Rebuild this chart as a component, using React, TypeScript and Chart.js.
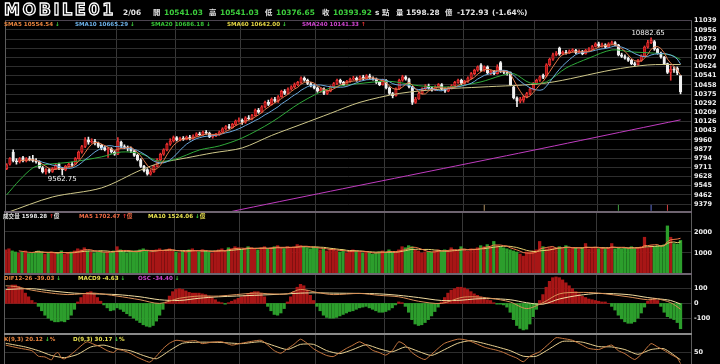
import React, { useEffect, useRef } from "react";
import { Chart, registerables } from "chart.js";
Chart.register(...registerables);

// ---------------- DATA ----------------
const openP = [
  9700, 9740, 9850, 9770, 9760, 9800, 9770, 9790, 9790, 9770,
  9760, 9710, 9670, 9690, 9675, 9700, 9740, 9700, 9690, 9720,
  9740, 9740, 9790, 9850, 9900, 9960, 9940, 9950, 9930, 9910,
  9890, 9870, 9880, 9850, 9830, 9940, 9900, 9890, 9885, 9860,
  9820, 9780, 9720, 9690, 9650, 9670, 9720, 9780, 9830, 9870,
  9920, 9950, 9980, 9960, 9975, 9965, 9985, 9970, 9995, 10015,
  10005, 10030, 10020, 9990, 10000, 10010, 10030, 10060, 10080, 10070,
  10100, 10130, 10140, 10120, 10160, 10150, 10180, 10230, 10210, 10260,
  10300, 10280, 10330, 10310, 10350, 10400, 10380, 10420, 10440, 10460,
  10480, 10520, 10500, 10470, 10450, 10430, 10400, 10420, 10380, 10400,
  10440, 10470, 10500, 10480, 10460, 10490, 10510, 10520, 10500, 10530,
  10510, 10540, 10520, 10510, 10480, 10460, 10500, 10430, 10380, 10360,
  10420, 10500, 10530, 10510, 10440, 10300, 10330, 10380, 10420, 10450,
  10430, 10410, 10440, 10460, 10420, 10400, 10430, 10450, 10480, 10500,
  10470, 10490, 10520, 10560, 10590, 10640, 10590, 10620, 10565, 10580,
  10560, 10660, 10580, 10570, 10570, 10440, 10340, 10310, 10320, 10350,
  10380, 10420, 10470, 10500, 10545, 10540, 10640, 10690, 10730, 10790,
  10740, 10755, 10745, 10765, 10770, 10750, 10760, 10740, 10770, 10780,
  10805, 10830, 10810, 10820, 10800, 10830, 10840, 10820, 10730, 10715,
  10700, 10680, 10650, 10640, 10680, 10720, 10800, 10840, 10850, 10780,
  10745, 10710, 10650, 10570, 10600, 10610, 10541.03,
];
const highP = [
  9745, 9800, 9870, 9790, 9800, 9810, 9800, 9810, 9820, 9790,
  9770, 9720, 9700, 9700, 9710, 9740, 9750, 9710, 9730, 9750,
  9760, 9800, 9860, 9910, 9980, 9985, 9970, 9965, 9940, 9920,
  9905, 9890, 9890, 9860, 9980, 9950, 9915, 9905, 9895, 9870,
  9830, 9790, 9730, 9700, 9690, 9730, 9790, 9840, 9880, 9930,
  9970, 9995, 9990, 9985, 9990, 9995, 10000, 10005, 10025, 10030,
  10040, 10045, 10030, 10010, 10020, 10040, 10070, 10090, 10100, 10110,
  10140, 10160, 10150, 10170, 10180, 10190, 10240, 10245, 10270, 10310,
  10320, 10340, 10345, 10360, 10410, 10415, 10430, 10450, 10475, 10490,
  10530, 10530, 10510, 10480, 10460, 10440, 10430, 10430, 10410, 10450,
  10480, 10510, 10510, 10490, 10500, 10520, 10535, 10530, 10540, 10545,
  10550, 10555, 10530, 10520, 10490, 10510, 10505, 10440, 10390, 10430,
  10510, 10545, 10540, 10520, 10445, 10345, 10390, 10430, 10460, 10465,
  10440, 10450, 10470, 10470, 10430, 10440, 10460, 10490, 10510, 10510,
  10500, 10530, 10570, 10600, 10630, 10650, 10630, 10630, 10590, 10590,
  10640, 10670, 10590, 10580, 10575, 10445, 10350, 10345, 10360, 10390,
  10430, 10480, 10510, 10540, 10555, 10650, 10700, 10745, 10760, 10800,
  10765, 10770, 10775, 10785, 10780, 10775, 10770, 10780, 10795, 10815,
  10840, 10845, 10835, 10830, 10840, 10855, 10850, 10825, 10745, 10730,
  10710, 10690, 10665, 10690, 10730, 10810, 10860, 10882.65, 10860, 10790,
  10755, 10715, 10655, 10630, 10620, 10620, 10541.03,
];
const lowP = [
  9690, 9730, 9760, 9740, 9750, 9760, 9760, 9770, 9760, 9750,
  9700, 9660, 9650, 9660, 9665, 9690, 9690, 9642, 9680, 9710,
  9720, 9735, 9785, 9840, 9890, 9920, 9930, 9915, 9890, 9870,
  9860, 9800, 9840, 9820, 9825, 9890, 9880, 9860, 9845, 9810,
  9770, 9710, 9670, 9640, 9640, 9665, 9715, 9770, 9820, 9860,
  9910, 9940, 9950, 9950, 9955, 9960, 9960, 9965, 9990, 10000,
  10000, 10010, 9980, 9975, 9990, 10000, 10025, 10050, 10060, 10065,
  10090, 10120, 10100, 10110, 10140, 10140, 10175, 10200, 10205, 10250,
  10270, 10275, 10300, 10300, 10345, 10370, 10375, 10410, 10430, 10450,
  10470, 10490, 10460, 10440, 10420, 10390, 10390, 10370, 10370, 10395,
  10430, 10460, 10470, 10450, 10455, 10480, 10500, 10490, 10495, 10500,
  10505, 10510, 10500, 10470, 10450, 10455, 10420, 10370, 10340, 10355,
  10415, 10490, 10500, 10430, 10280, 10290, 10325, 10375, 10410, 10420,
  10400, 10405, 10430, 10410, 10390, 10395, 10420, 10440, 10470, 10460,
  10460, 10480, 10510, 10550, 10580, 10580, 10580, 10555, 10550, 10550,
  10555, 10570, 10560, 10545, 10450, 10330, 10260, 10295, 10300, 10340,
  10370, 10410, 10460, 10490, 10515, 10530, 10630, 10680, 10720, 10725,
  10730, 10735, 10740, 10755, 10740, 10745, 10730, 10735, 10765, 10775,
  10800, 10800, 10800, 10790, 10795, 10825, 10810, 10720, 10705, 10690,
  10670, 10640, 10625, 10635, 10670, 10715, 10790, 10830, 10770, 10735,
  10700, 10640, 10560, 10500, 10570, 10550, 10376.65,
];
const closeP = [
  9735, 9790, 9770, 9760, 9790, 9770, 9790, 9780, 9770, 9760,
  9710, 9670, 9690, 9675, 9700, 9730, 9700, 9690, 9720, 9740,
  9730, 9790, 9850, 9900, 9960, 9940, 9950, 9930, 9900, 9890,
  9870, 9880, 9850, 9830, 9950, 9900, 9890, 9885, 9860, 9820,
  9780, 9720, 9680, 9650, 9670, 9720, 9780, 9830, 9870, 9920,
  9950, 9980, 9960, 9975, 9965, 9985, 9970, 9995, 10015, 10005,
  10030, 10020, 9990, 10000, 10010, 10030, 10060, 10080, 10070, 10100,
  10130, 10140, 10120, 10160, 10150, 10180, 10230, 10210, 10260, 10300,
  10280, 10330, 10310, 10350, 10400, 10380, 10420, 10440, 10460, 10480,
  10520, 10500, 10470, 10450, 10430, 10400, 10420, 10380, 10400, 10440,
  10470, 10500, 10480, 10460, 10490, 10510, 10520, 10500, 10530, 10510,
  10540, 10520, 10510, 10480, 10460, 10500, 10430, 10380, 10360, 10420,
  10500, 10530, 10510, 10440, 10300, 10330, 10380, 10420, 10450, 10430,
  10410, 10440, 10460, 10420, 10400, 10430, 10450, 10480, 10500, 10470,
  10490, 10520, 10560, 10590, 10620, 10590, 10620, 10565, 10580, 10560,
  10620, 10580, 10570, 10560, 10460, 10340, 10310, 10330, 10350, 10380,
  10420, 10470, 10500, 10530, 10525, 10640, 10690, 10730, 10745, 10735,
  10755, 10745, 10765, 10770, 10750, 10760, 10740, 10770, 10780, 10805,
  10830, 10810, 10820, 10800, 10830, 10840, 10820, 10730, 10715, 10700,
  10680, 10650, 10640, 10680, 10720, 10800, 10840, 10860, 10780, 10745,
  10710, 10650, 10570, 10600, 10590, 10566.85, 10393.92,
];
const volume = [
  1150, 1200, 1100, 1050, 1000, 1050, 1100, 980, 1000, 1050,
  1100, 1050, 950, 1000, 1050, 980, 1000, 1100, 950, 1000,
  1050, 1100, 1200, 1150, 1250, 1100, 1050, 1000, 1050, 1100,
  1000, 1050, 1000, 1100, 1300, 1150, 1050, 1000, 1050, 1100,
  1100, 1150, 1200, 1100, 1050, 1100, 1150, 1200, 1100, 1150,
  1200, 1100, 1050, 1000, 1100, 1050, 1150, 1200, 1100, 1050,
  1150, 1100, 1050, 1000, 1100, 1150, 1200, 1100, 1250, 1200,
  1300, 1250, 1150, 1200, 1300, 1250, 1200, 1150, 1250, 1300,
  1200, 1250, 1300, 1350, 1250, 1200, 1300, 1250, 1300, 1400,
  1350, 1300, 1250, 1200, 1300, 1250, 1150, 1200, 1100, 1150,
  1200, 1100, 1050, 1100, 1000, 1100, 1150, 1100, 1050, 1000,
  1050, 1000, 950, 1000, 1050, 1100, 1050, 1150, 1000, 1050,
  1150, 1300, 1250, 1350, 1300, 1150, 1100, 1000, 1050, 1050,
  1050, 1100, 1150, 1100, 1150, 1100, 1250, 1150, 1100, 1300,
  1150, 1100, 1200, 1150, 1250, 1350, 1300, 1400, 1300, 1550,
  1350, 1300, 1250, 1200, 1150, 1100, 1050, 950, 850, 1050,
  1050, 1100, 1150, 1550, 1300, 1200, 1250, 1250, 1200, 1300,
  1200, 1350, 1200, 1250, 1250, 1200, 1250, 1450, 1200, 1250,
  1250, 1200, 1250, 1200, 1250, 1450, 1200, 1250, 1200, 1250,
  1200, 1300, 1200, 1250, 1300, 1750, 1250, 1350, 1300, 1350,
  1350, 1400, 2290, 1750, 1450, 1424, 1598.28,
];
const oscHist = [
  18, 22, 25, 25, 23, 19, 14, 9, 4, 1,
  -4, -10, -16, -20, -23, -25, -25, -24, -25, -22, -16, -8,
  2, 8, 12, 15, 16, 13, 8, 3,
  -2, -6, -10, -9, -6, -8, -11, -14, -17, -20, -23, -26, -29, -31, -32, -30, -24, -16, -8,
  2, 10, 16, 19, 20, 19, 17, 15, 14, 14, 14, 13, 12, 10, 8, 5, 2,
  1, -1, 1,
  3, 5, 7, 9, 11, 13, 15, 16, 16, 14, 9,
  -4, -10, -15, -16, -13, -7,
  2, 9, 16, 22, 26, 24, 18, 11, 4,
  -4, -10, -16, -19, -20, -20, -19, -17, -15, -13, -11, -10, -8, -6,
  -5, -4, -6, -8, -10, -12, -12, -11, -9, -6, -2,
  2, 1,
  -4, -12, -22, -28, -30, -29, -26, -22, -17, -11, -5,
  2, 8, 14, 18, 20, 22, 22, 21, 19, 16, 13, 11, 9, 7, 5, 4,
  1, -1, -1, -2,
  -5, -12, -22, -30, -34, -36, -35, -28, -18, -8,
  4, 12, 22, 30, 35, 36, 35, 32, 28, 24, 20, 16, 13, 10, 8, 6, 5, 4, 3, 2, 2,
  0, -4, -9, -16, -21, -25, -27, -27, -25, -20, -13, -5,
  3, 6, 7, 4,
  -4, -12, -18, -20, -22, -26, -34.4,
];
const difPts = [[0,120],[3,115],[6,100],[8,90],[14,70],[19,60],[23,65],[27,70],[34,50],[41,25],[47,0],[53,35],[59,50],[65,50],[76,70],[81,65],[86,65],[90,95],[95,75],[100,60],[108,68],[114,55],[120,45],[126,15],[133,0],[139,40],[143,45],[148,35],[154,10],[159,-35],[164,5],[169,65],[175,75],[181,70],[190,45],[196,25],[199,30],[203,5],[206,-39.03]];
const macdPts = [[0,95],[8,100],[14,85],[21,70],[27,65],[34,60],[41,45],[47,25],[53,20],[59,35],[65,45],[76,55],[86,65],[90,70],[95,72],[100,70],[108,68],[114,65],[120,55],[126,40],[133,20],[139,22],[143,30],[148,33],[154,25],[159,5],[164,-5],[169,30],[175,55],[181,68],[190,60],[196,40],[199,32],[203,20],[206,-4.63]];
const kPts = [[0,70],[4,62],[8,55],[10,40],[12,38],[14,30],[15,45],[16,50],[17,35],[18,33],[20,45],[22,60],[24,75],[25,79],[27,72],[29,65],[31,55],[33,50],[34,58],[36,55],[38,48],[40,38],[42,30],[44,24],[46,40],[48,60],[50,75],[52,83],[55,80],[58,82],[60,74],[63,78],[66,79],[69,70],[72,75],[75,80],[78,83],[80,70],[82,55],[84,48],[86,60],[88,72],[90,86],[92,75],[94,60],[96,50],[98,42],[100,39],[102,50],[104,61],[106,70],[108,79],[110,70],[112,56],[114,50],[116,43],[118,55],[120,79],[122,70],[124,50],[126,38],[128,31],[130,45],[132,61],[134,75],[138,86],[140,85],[142,80],[146,65],[148,60],[150,56],[152,50],[154,42],[156,35],[158,25],[160,40],[163,52],[166,75],[168,90],[170,88],[173,83],[176,70],[178,61],[181,58],[183,65],[185,70],[187,55],[189,47],[192,31],[194,45],[197,74],[199,65],[201,56],[203,45],[205,35],[206,20.12]];
const dPts = [[0,75],[6,65],[10,55],[14,42],[18,36],[22,45],[26,65],[30,70],[34,60],[38,55],[42,42],[46,33],[50,55],[54,75],[60,78],[66,77],[72,74],[78,79],[82,68],[86,58],[90,72],[94,72],[98,55],[102,47],[106,58],[110,71],[114,60],[118,52],[122,65],[126,53],[130,42],[134,58],[138,75],[142,82],[148,70],[154,55],[158,40],[162,40],[166,60],[170,80],[176,78],[181,66],[185,65],[189,58],[193,45],[197,58],[201,60],[206,30.17]];
const sma20Pts = [[0,9462],[4,9597],[8,9706],[11,9733],[20,9760],[29,9806],[35,9850],[41,9835],[46,9770],[51,9780],[59,9869],[65,9905],[72,9977],[81,10120],[90,10300],[99,10430],[108,10470],[117,10490],[126,10450],[136,10440],[145,10485],[151,10540],[155,10560],[160,10475],[165,10485],[171,10610],[178,10700],[185,10774],[191,10756],[198,10745],[203,10728],[206,10686.18]];
const sma60Pts = [[0,9300],[14,9443],[29,9525],[41,9687],[47,9751],[55,9797],[63,9842],[72,9887],[81,10000],[90,10100],[99,10200],[108,10300],[120,10380],[133,10420],[145,10438],[165,10475],[185,10593],[196,10638],[206,10642]];
const sma240Pts = [[0,8880],[68,9307],[99,9495],[130,9680],[160,9860],[191,10050],[206,10141.33]];

const priceTicks = [11039, 10956, 10873, 10790, 10707, 10624, 10541, 10458, 10375, 10292, 10209, 10126, 10043, 9960, 9877, 9794, 9711, 9628, 9545, 9462, 9379];
const volTicks = [1000, 2000];
const macdTicks = [-100, 0, 100];
const kdTicks = [50];
const monthStartIdx = [34, 52, 72, 95, 116, 140, 162, 181];
const eventIdx = [146, 187, 197, 202];
const extremes = [
  { i: 197, text: "10882.65", side: "high" },
  { i: 17, text: "9562.75", side: "low" },
];

// ---------------- STYLE ----------------
const FONT = '"DejaVu Sans", "Noto Sans CJK TC", sans-serif';
const UP_FILL = "#a81212";
const UP_EDGE = "#ec3434";
const DOWN_COL = "#f0f0f0";
const VOL_UP = "#a81616";
const VOL_DN = "#2c9e2c";
const GRID = "#2e2e2e";
const VGRID = "#383838";
const eventColors = ["#b09060", "#40a040", "#6070d0", "#d04040"];

const N = closeP.length;
const IDX = Array.from({ length: N }, (_, i) => i);
const isUp = (i: number) => closeP[i] >= openP[i];

function movingAvg(src: number[], n: number) {
  const out: { x: number; y: number }[] = [];
  for (let i = n - 1; i < src.length; i++) {
    let s = 0;
    for (let k = i - n + 1; k <= i; k++) s += src[k];
    out.push({ x: i, y: s / n });
  }
  return out;
}
const pts = (arr: number[][]) => arr.map(([x, y]) => ({ x, y }));

const xScale = () => ({
  type: "linear",
  min: -0.5,
  max: 209.5,
  offset: false,
  afterBuildTicks: (s: any) => {
    s.ticks = monthStartIdx.map((m) => ({ value: m - 0.5 }));
  },
  ticks: { display: false },
  grid: { color: VGRID, drawTicks: false, offset: false, lineWidth: 1 },
  border: { display: false },
  afterFit: (s: any) => {
    s.height = 0;
  },
});

const yScale = (min: number, max: number, tickVals: number[]) => ({
  type: "linear",
  position: "right",
  min,
  max,
  afterBuildTicks: (s: any) => {
    s.ticks = tickVals.map((v) => ({ value: v }));
  },
  ticks: {
    color: "#f0f0f0",
    autoSkip: false,
    font: { family: FONT, size: 6.5, weight: "bold" },
    padding: 2,
    callback: (v: any) => String(v),
  },
  grid: { color: GRID, drawTicks: false },
  border: { display: false },
  afterFit: (s: any) => {
    s.width = 28;
  },
});

const framePlugin = {
  id: "frame",
  afterDraw(chart: any, _a: any, opts: any) {
    const { ctx, chartArea: a } = chart;
    ctx.save();
    ctx.strokeStyle = "#5c5c5c";
    ctx.lineWidth = 1;
    ctx.beginPath();
    ctx.moveTo(a.left + 0.5, a.top);
    ctx.lineTo(a.left + 0.5, a.bottom);
    ctx.moveTo(a.right - 0.5, a.top);
    ctx.lineTo(a.right - 0.5, a.bottom);
    ctx.stroke();
    if (opts && opts.topColor) {
      ctx.strokeStyle = opts.topColor;
      ctx.lineWidth = opts.topWidth;
      ctx.beginPath();
      ctx.moveTo(a.left, a.top + (opts.topWidth % 2 ? 0.5 : 0));
      ctx.lineTo(a.right, a.top + (opts.topWidth % 2 ? 0.5 : 0));
      ctx.stroke();
    }
    ctx.restore();
  },
};

const extremaPlugin = {
  id: "extrema",
  afterDatasetsDraw(chart: any) {
    const { ctx, scales } = chart;
    ctx.save();
    ctx.fillStyle = "#f2f2f2";
    ctx.font = `7px ${FONT}`;
    ctx.textAlign = "center";
    for (const m of extremes) {
      const px = scales.x.getPixelForValue(m.i);
      if (m.side === "high") {
        ctx.textBaseline = "bottom";
        ctx.fillText(m.text, px - 3, scales.y.getPixelForValue(highP[m.i]) - 1);
      } else {
        ctx.textBaseline = "top";
        ctx.fillText(m.text, px, scales.y.getPixelForValue(lowP[m.i]) + 1);
      }
    }
    ctx.restore();
  },
};

function baseOptions(padTop: number, padBottom: number, scales: any, frame: any) {
  return {
    responsive: false,
    maintainAspectRatio: false,
    animation: false,
    devicePixelRatio: 1,
    events: [],
    layout: { padding: { left: 4, right: 0, top: padTop, bottom: padBottom } },
    plugins: { legend: { display: false }, tooltip: { enabled: false }, frame },
    scales,
  };
}

const line = (data: any[], color: string, order: number, tension = 0) => ({
  type: "line",
  data,
  borderColor: color,
  borderWidth: 1,
  pointRadius: 0,
  tension,
  order,
});

function priceConfig(): any {
  return {
    type: "bar",
    data: {
      datasets: [
        {
          type: "bar",
          data: IDX.map((i) => ({ x: i, y: [lowP[i], highP[i]] })),
          backgroundColor: IDX.map((i) => (isUp(i) ? UP_EDGE : DOWN_COL)),
          barThickness: 1,
          grouped: false,
          order: 11,
        },
        {
          type: "bar",
          data: IDX.map((i) => ({ x: i, y: [openP[i], closeP[i]] })),
          backgroundColor: IDX.map((i) => (isUp(i) ? UP_FILL : DOWN_COL)),
          borderColor: IDX.map((i) => (isUp(i) ? UP_EDGE : DOWN_COL)),
          borderWidth: 0.8,
          borderSkipped: false,
          barThickness: 2.6,
          minBarLength: 1,
          grouped: false,
          order: 10,
        },
        line(pts(sma240Pts), "#c03cc0", 6, 0.3),
        line(pts(sma60Pts), "#cfc88a", 5, 0.3),
        line(pts(sma20Pts), "#2faa3a", 4, 0.3),
        line(movingAvg(closeP, 10), "#6aa8dc", 3),
        line(movingAvg(closeP, 5), "#e0784a", 2),
        {
          type: "scatter",
          data: eventIdx.map((i) => ({ x: i, y: 9345 })),
          pointStyle: "line",
          rotation: 90,
          radius: 3,
          borderWidth: 1,
          borderColor: eventColors,
          order: 1,
        },
      ],
    },
    options: baseOptions(8, 8, { x: xScale(), y: yScale(9307, 11045, priceTicks) }, { topColor: "#4c4450", topWidth: 1 }),
    plugins: [framePlugin, extremaPlugin],
  };
}

function volumeConfig(): any {
  return {
    type: "bar",
    data: {
      datasets: [
        {
          type: "bar",
          data: IDX.map((i) => ({ x: i, y: volume[i] })),
          backgroundColor: IDX.map((i) => (isUp(i) ? VOL_UP : VOL_DN)),
          barThickness: 2.6,
          grouped: false,
          order: 5,
        },
        line(movingAvg(volume, 10), "#e6d070", 2),
        line(movingAvg(volume, 5), "#f07848", 1),
      ],
    },
    options: baseOptions(8, 8, { x: xScale(), y: yScale(0, 2952, volTicks) }, { topColor: "#6e6470", topWidth: 2 }),
    plugins: [framePlugin],
  };
}

function macdConfig(): any {
  return {
    type: "bar",
    data: {
      datasets: [
        {
          type: "bar",
          yAxisID: "yOsc",
          data: IDX.map((i) => ({ x: i, y: oscHist[i] })),
          backgroundColor: IDX.map((i) => (oscHist[i] >= 0 ? VOL_UP : VOL_DN)),
          barThickness: 2.6,
          grouped: false,
          order: 5,
        },
        line(pts(macdPts), "#f0dca0", 2, 0.3),
        line(pts(difPts), "#d89058", 1, 0.3),
      ],
    },
    options: baseOptions(8, 8, {
      x: xScale(),
      y: yScale(-201, 200, macdTicks),
      yOsc: { type: "linear", display: false, min: -40.2, max: 40 },
    }, { topColor: "#6e6470", topWidth: 2 }),
    plugins: [framePlugin],
  };
}

function kdConfig(): any {
  return {
    type: "line",
    data: {
      datasets: [
        line(pts(dPts), "#e8d090", 2, 0.2),
        line(pts(kPts), "#c87840", 1, 0.2),
      ],
    },
    options: baseOptions(8, 8, { x: xScale(), y: yScale(0, 100, kdTicks) }, { topColor: "#8a8a8a", topWidth: 2 }),
    plugins: [framePlugin],
  };
}

// ---------------- TEXT ----------------
const GREEN_T = "#3ccc3c";
const RED_T = "#ee3333";
const WHITE_T = "#e4e4e4";
const headerItems: [string, number, string][] = [
  ["2/06", 123, WHITE_T],
  ["開", 153, WHITE_T],
  ["10541.03", 164, GREEN_T],
  ["高", 209, WHITE_T],
  ["10541.03", 220, GREEN_T],
  ["低", 265, WHITE_T],
  ["10376.65", 276, GREEN_T],
  ["收", 322, WHITE_T],
  ["10393.92", 333, GREEN_T],
  ["s", 375, WHITE_T],
  ["點", 382, WHITE_T],
  ["量", 396, WHITE_T],
  ["1598.28", 406, WHITE_T],
  ["億", 445, WHITE_T],
  ["-172.93", 457, WHITE_T],
  ["(-1.64%)", 492, WHITE_T],
];
type Leg = { x: number; parts: [string, string][] };
const priceLegend: Leg[] = [
  { x: 4, parts: [["SMA5 10554.54 ", "#e8843e"], ["↓", GREEN_T]] },
  { x: 75, parts: [["SMA10 10665.29 ", "#6cb0e6"], ["↓", GREEN_T]] },
  { x: 151, parts: [["SMA20 10686.18 ", "#36c436"], ["↓", GREEN_T]] },
  { x: 227, parts: [["SMA60 10642.00 ", "#e2d444"], ["↓", GREEN_T]] },
  { x: 302, parts: [["SMA240 10141.33 ", "#cc44cc"], ["↑", RED_T]] },
];
const volLegend: Leg[] = [
  { x: 3, parts: [["成交量 1598.28 ", WHITE_T], ["↑", RED_T], ["億", WHITE_T]] },
  { x: 79, parts: [["MA5 1702.47 ", "#f06a44"], ["↑", RED_T], ["億", "#f06a44"]] },
  { x: 148, parts: [["MA10 1524.06 ", "#e8e050"], ["↓", GREEN_T], ["億", "#e8e050"]] },
];
const macdLegend: Leg[] = [
  { x: 4, parts: [["DIF12-26 -39.03 ", "#e8843e"], ["↓", GREEN_T]] },
  { x: 78, parts: [["MACD9 -4.63 ", "#e8e050"], ["↓", GREEN_T]] },
  { x: 138, parts: [["OSC -34.40 ", "#cc44cc"], ["↓", GREEN_T]] },
];
const kdLegend: Leg[] = [
  { x: 4, parts: [["K(9,3) 20.12 ", "#e8843e"], ["↓", GREEN_T], ["%", "#e8843e"]] },
  { x: 73, parts: [["D(9,3) 30.17 ", "#e8e050"], ["↓", GREEN_T], ["%", "#e8e050"]] },
];

function Legend({ items, top }: { items: Leg[]; top: number }) {
  return (
    <>
      {items.map((g, k) => (
        <div
          key={k}
          style={{
            position: "absolute",
            left: g.x,
            top,
            fontFamily: FONT,
            fontSize: "5.6px",
            fontWeight: "bold",
            lineHeight: "7px",
            whiteSpace: "pre",
          }}
        >
          {g.parts.map(([t, c], j) => (
            <span key={j} style={{ color: c }}>
              {t}
            </span>
          ))}
        </div>
      ))}
    </>
  );
}

export default function App() {
  const priceRef = useRef<HTMLCanvasElement>(null);
  const volRef = useRef<HTMLCanvasElement>(null);
  const macdRef = useRef<HTMLCanvasElement>(null);
  const kdRef = useRef<HTMLCanvasElement>(null);

  useEffect(() => {
    document.body.style.margin = "0";
    document.body.style.background = "#000";
    const charts = [
      new Chart(priceRef.current as any, priceConfig()),
      new Chart(volRef.current as any, volumeConfig()),
      new Chart(macdRef.current as any, macdConfig()),
      new Chart(kdRef.current as any, kdConfig()),
    ];
    return () => charts.forEach((c) => c.destroy());
  }, []);

  const cv = (top: number): React.CSSProperties => ({ position: "absolute", left: 0, top, display: "block" });

  return (
    <div
      style={{
        position: "fixed",
        left: 0,
        top: 0,
        width: 720,
        height: 364,
        background: "#000",
        overflow: "hidden",
      }}
    >
      <canvas ref={priceRef} width={720} height={208} style={cv(12)} />
      <canvas ref={volRef} width={720} height={78} style={cv(204)} />
      <canvas ref={macdRef} width={720} height={75} style={cv(266)} />
      <canvas ref={kdRef} width={720} height={53} style={cv(326)} />

      <div
        style={{
          position: "absolute",
          left: 4,
          top: 2,
          fontFamily: FONT,
          fontSize: "16px",
          fontWeight: "bold",
          letterSpacing: "2.6px",
          lineHeight: "16px",
          color: "#0a0a0a",
          WebkitTextStroke: "1.3px #ffffff",
          whiteSpace: "pre",
        }}
      >
        MOBILE01
      </div>
      {headerItems.map(([t, x, c], k) => (
        <div
          key={k}
          style={{
            position: "absolute",
            left: x,
            top: 8,
            fontFamily: FONT,
            fontSize: "7.4px",
            fontWeight: "bold",
            lineHeight: "10px",
            color: c,
            whiteSpace: "pre",
          }}
        >
          {t}
        </div>
      ))}
      <Legend items={priceLegend} top={21} />
      <Legend items={volLegend} top={213} />
      <Legend items={macdLegend} top={275} />
      <Legend items={kdLegend} top={335.5} />
    </div>
  );
}
